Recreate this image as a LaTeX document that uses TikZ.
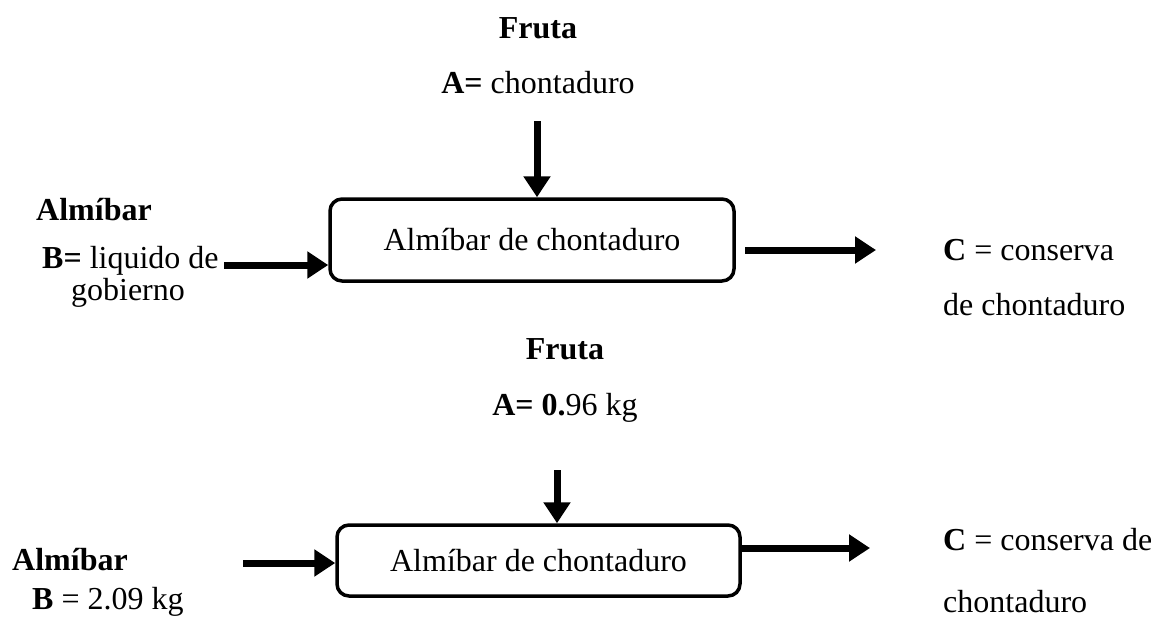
\documentclass[tikz,border=0pt]{standalone}
\usepackage{fontspec}
\setmainfont{Liberation Serif}
\usetikzlibrary{arrows.meta}
\tikzset{
  lbl/.style={inner sep=0pt, font=\fontsize{32}{38}\selectfont},
  procbox/.style={draw, line width=3.5pt, rounded corners=12pt, inner sep=0pt, font=\fontsize{32}{38}\selectfont},
  flow/.style={line width=7pt, -{Triangle[length=21pt,width=26pt]}},
}
\begin{document}
\begin{tikzpicture}[x=1pt,y=-1pt]
\useasboundingbox (0,0) rectangle (1151,619);
% ---------- top diagram ----------
\node[lbl, anchor=base] (fruta1) at (538,38) {\textbf{Fruta}};
\node[lbl, anchor=base] (a1) at (538,93) {\textbf{A=} chontaduro};
\node[procbox, minimum width=404pt, minimum height=82pt] (box1) at (532,240) {Almíbar de chontaduro};
\node[lbl, anchor=base west] (alm1) at (36,220) {\textbf{Almíbar}};
\node[lbl, anchor=base west] (b1) at (42,268) {\textbf{B=} liquido de};
\node[lbl, anchor=base] (b1b) at (128,300) {gobierno};
\node[lbl, anchor=base west] (c1) at (943,260) {\textbf{C} = conserva};
\node[lbl, anchor=base west] (c1b) at (943,315) {de chontaduro};
\coordinate (in1a) at (537,121);
\coordinate (in1b) at (224,265);
\coordinate (out1s) at (745,250);
\coordinate (out1e) at (876,250);
\draw[flow] (in1a) -- (in1a |- box1.north);
\draw[flow] (in1b) -- (in1b -| box1.west);
\draw[flow] (out1s) -- (out1e);
% ---------- bottom diagram ----------
\node[lbl, anchor=base] (fruta2) at (565,359) {\textbf{Fruta}};
\node[lbl, anchor=base] (a2) at (565,415) {\textbf{A= 0.}96 kg};
\node[procbox, minimum width=403pt, minimum height=71pt] (box2) at (538.5,560.5) {Almíbar de chontaduro};
\node[lbl, anchor=base west] (alm2) at (12,570) {\textbf{Almíbar}};
\node[lbl, anchor=base west] (b2) at (32,609) {\textbf{B} = 2.09 kg};
\node[lbl, anchor=base west] (c2) at (943,550) {\textbf{C} = conserva de};
\node[lbl, anchor=base west] (c2b) at (943,612) {chontaduro};
\coordinate (in2a) at (557,470);
\coordinate (in2b) at (243,563);
\coordinate (out2e) at (870,548);
\draw[flow] (in2a) -- (in2a |- box2.north);
\draw[flow] (in2b) -- (in2b -| box2.west);
\draw[flow] (out2e -| box2.east) -- (out2e);
\end{tikzpicture}
\end{document}
